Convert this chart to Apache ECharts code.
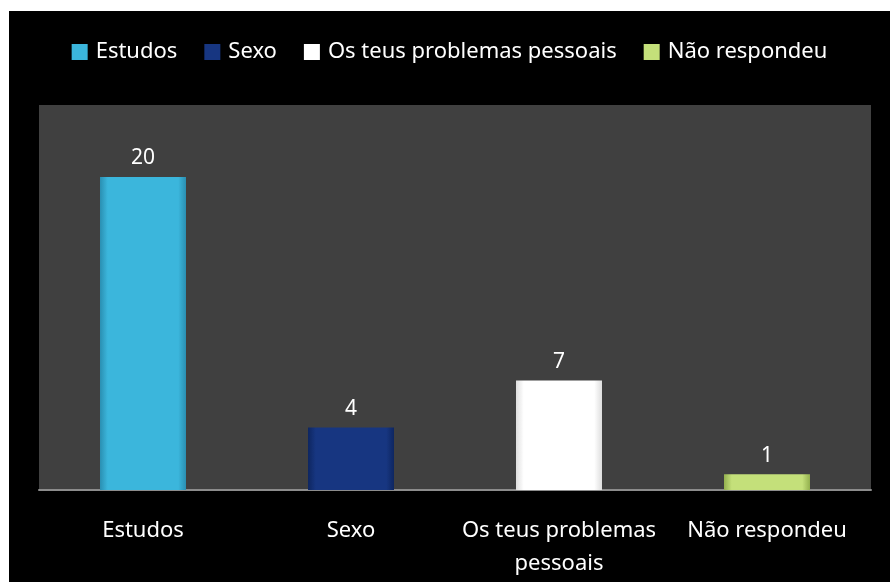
<!DOCTYPE html>
<html>
<head>
<meta charset="utf-8">
<script src="https://cdn.jsdelivr.net/npm/echarts@6/dist/echarts.min.js"></script>
<style>
  html, body { margin: 0; padding: 0; background: #ffffff; }
  #wrap { position: relative; width: 890px; height: 582px; background: #ffffff; }
  #chart { position: absolute; left: 9px; top: 11px; width: 881px; height: 571px; }
</style>
</head>
<body>
<div id="wrap"><div id="chart"></div></div>
<script>
// Categories and counts
const categories = ['Estudos', 'Sexo', 'Os teus problemas pessoais', 'Não respondeu'];
const axisLabels = ['Estudos', 'Sexo', 'Os teus problemas\npessoais', 'Não respondeu'];
const values = [20, 4, 7, 1];
// [highlight, body, edge] per category
const palette = [
  ['#6fdcf6', '#3bb6dc', '#2a8fb2'],
  ['#3a5ca8', '#173681', '#0e2660'],
  ['#ffffff', '#ffffff', '#dedede'],
  ['#e8f8a8', '#c4e07a', '#93b04e']
];

const chart = echarts.init(document.getElementById('chart'));

const FONT = 'Noto Sans';

// One series per category so each shows in the legend; stacked so they share one slot
const series = categories.map((name, i) => ({
  name: name,
  type: 'bar',
  stack: 'all',
  barWidth: 86,
  data: values.map((v, j) => (j === i ? v : null)),
  itemStyle: {
    color: {
      type: 'linear', x: 0, y: 0, x2: 1, y2: 0,
      colorStops: [
        { offset: 0, color: palette[i][2] },
        { offset: 0.09, color: palette[i][1] },
        { offset: 0.91, color: palette[i][1] },
        { offset: 1, color: palette[i][2] }
      ]
    }
  },
  label: {
    show: true,
    position: 'top',
    distance: 8,
    color: '#ffffff',
    fontFamily: FONT,
    fontSize: 21,
    formatter: p => (p.value == null ? '' : String(p.value))
  }
}));

chart.setOption({
  backgroundColor: '#000000',
  animation: false,
  legend: {
    top: 25,
    left: 'center',
    icon: 'rect',
    itemWidth: 16,
    itemHeight: 16,
    itemGap: 27,
    textStyle: { color: '#ffffff', fontFamily: FONT, fontSize: 22, padding: [0, 0, 0, 3] },
    data: categories.map((c, i) => ({ name: c, itemStyle: { color: palette[i][1] } }))
  },
  grid: {
    left: 30, right: 19, top: 94, bottom: 92,
    show: true, backgroundColor: '#404040', borderWidth: 0
  },
  xAxis: {
    type: 'category',
    data: categories,
    axisLine: { show: true, lineStyle: { color: '#8c8c8c', width: 2 } },
    axisTick: { show: false },
    axisLabel: {
      color: '#ffffff',
      fontFamily: FONT,
      fontSize: 22,
      margin: 24,
      lineHeight: 33,
      interval: 0,
      formatter: (v, i) => axisLabels[i]
    }
  },
  yAxis: {
    type: 'value',
    min: 0,
    max: 24.6,
    show: false,
    splitLine: { show: false }
  },
  series: series
});
</script>
</body>
</html>
